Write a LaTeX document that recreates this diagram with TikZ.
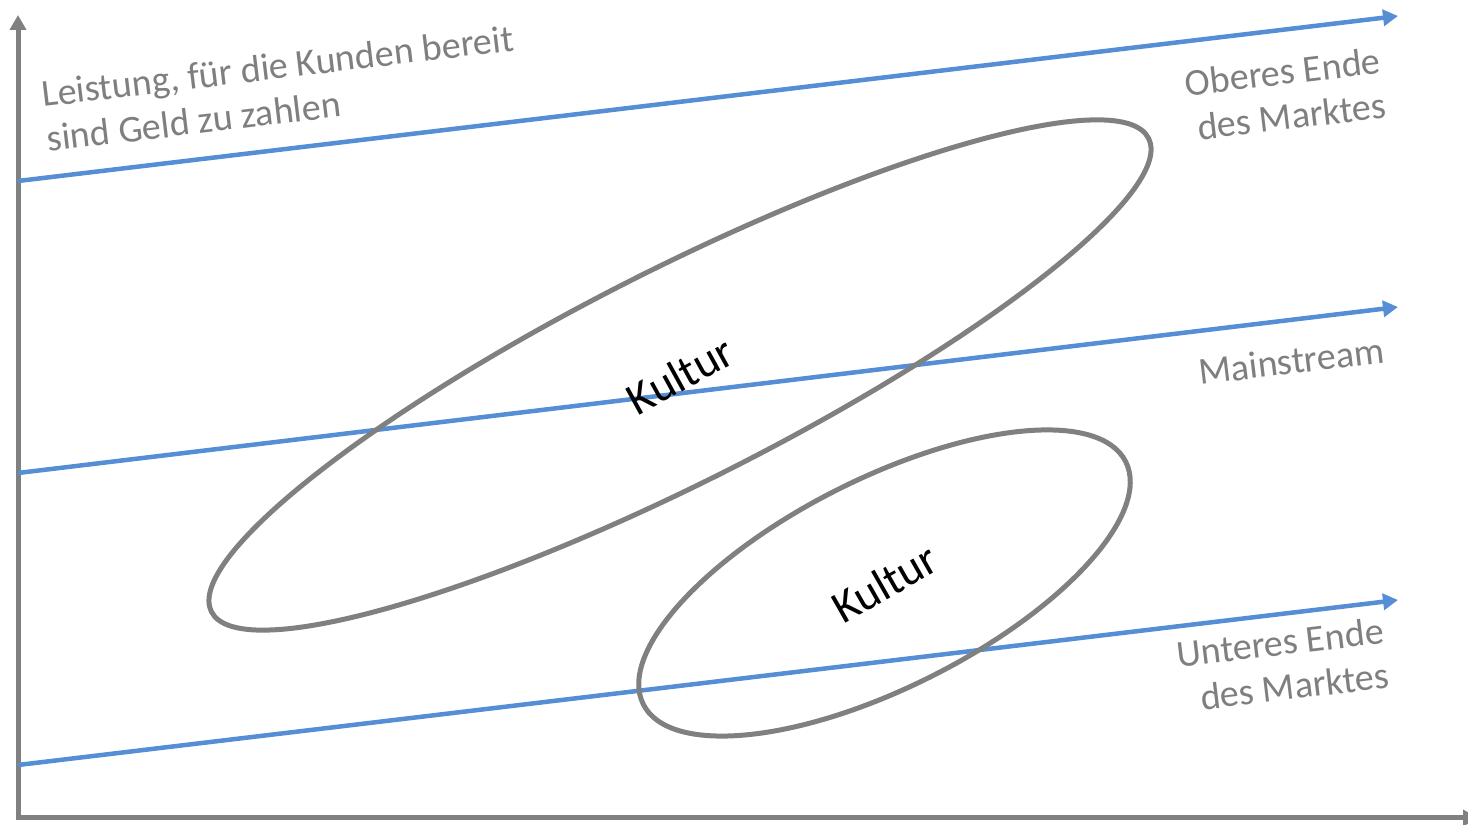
\documentclass[tikz,border=0pt]{standalone}
\usepackage{fontspec}
\setmainfont{Carlito}
\usetikzlibrary{arrows.meta,shapes.geometric}
\definecolor{axisgray}{HTML}{808080}
\definecolor{linblue}{HTML}{558ED5}
\definecolor{txtgray}{HTML}{7F7F7F}
\begin{document}
\begin{tikzpicture}[x=1pt,y=1pt,
  axis/.style={draw=axisgray,line width=5pt,{Triangle[length=15pt,width=16pt]}-{Triangle[length=15pt,width=16pt]}},
  level/.style={draw=linblue,line width=4.5pt,-{Triangle[length=15pt,width=16pt]}},
  lbl/.style={text=txtgray,font=\fontsize{38}{45}\selectfont,inner sep=0pt,rotate=6.82},
  culture/.style={ellipse,draw=axisgray,line width=5pt,inner sep=0pt,text=black,font=\fontsize{46}{54}\selectfont},
]
\useasboundingbox (0,0) rectangle (1468,825);
% axes
\coordinate (O) at (18,7);
\coordinate (ytop) at (18,810);
\coordinate (xend) at (1478,7);
\draw[axis] (ytop) -- (O) -- (xend);
% market levels
\coordinate (a1) at (18,644);
\coordinate (b1) at (1398,809);
\coordinate (a2) at (18,352);
\coordinate (b2) at (1398,518);
\coordinate (a3) at (18,60);
\coordinate (b3) at (1398,225);
\draw[level] (a1) -- (b1);
\draw[level] (a2) -- (b2);
\draw[level] (a3) -- (b3);
% cultures
\node[culture,minimum width=1050pt,minimum height=213pt,rotate=26.8] (e1) at (680,450) {\rotatebox{2}{Kultur}};
\node[culture,minimum width=540pt,minimum height=209pt,rotate=26.7] (e2) at (884.5,242) {\rotatebox{3}{Kultur}};
% labels
\node[lbl,anchor=base west] (t1) at (43,718) {\begin{tabular}[t]{@{}l@{}}Leistung, für die Kunden bereit\\ sind Geld zu zahlen\end{tabular}};
\node[lbl,anchor=base east] (t2) at (1382,752) {\begin{tabular}[t]{@{}r@{}}Oberes Ende\\ des Marktes\end{tabular}};
\node[lbl,anchor=base west] (t3) at (1200,440) {Mainstream};
\node[lbl,anchor=base east] (t4) at (1385,182) {\begin{tabular}[t]{@{}r@{}}Unteres Ende\\ des Marktes\end{tabular}};
\end{tikzpicture}
\end{document}
